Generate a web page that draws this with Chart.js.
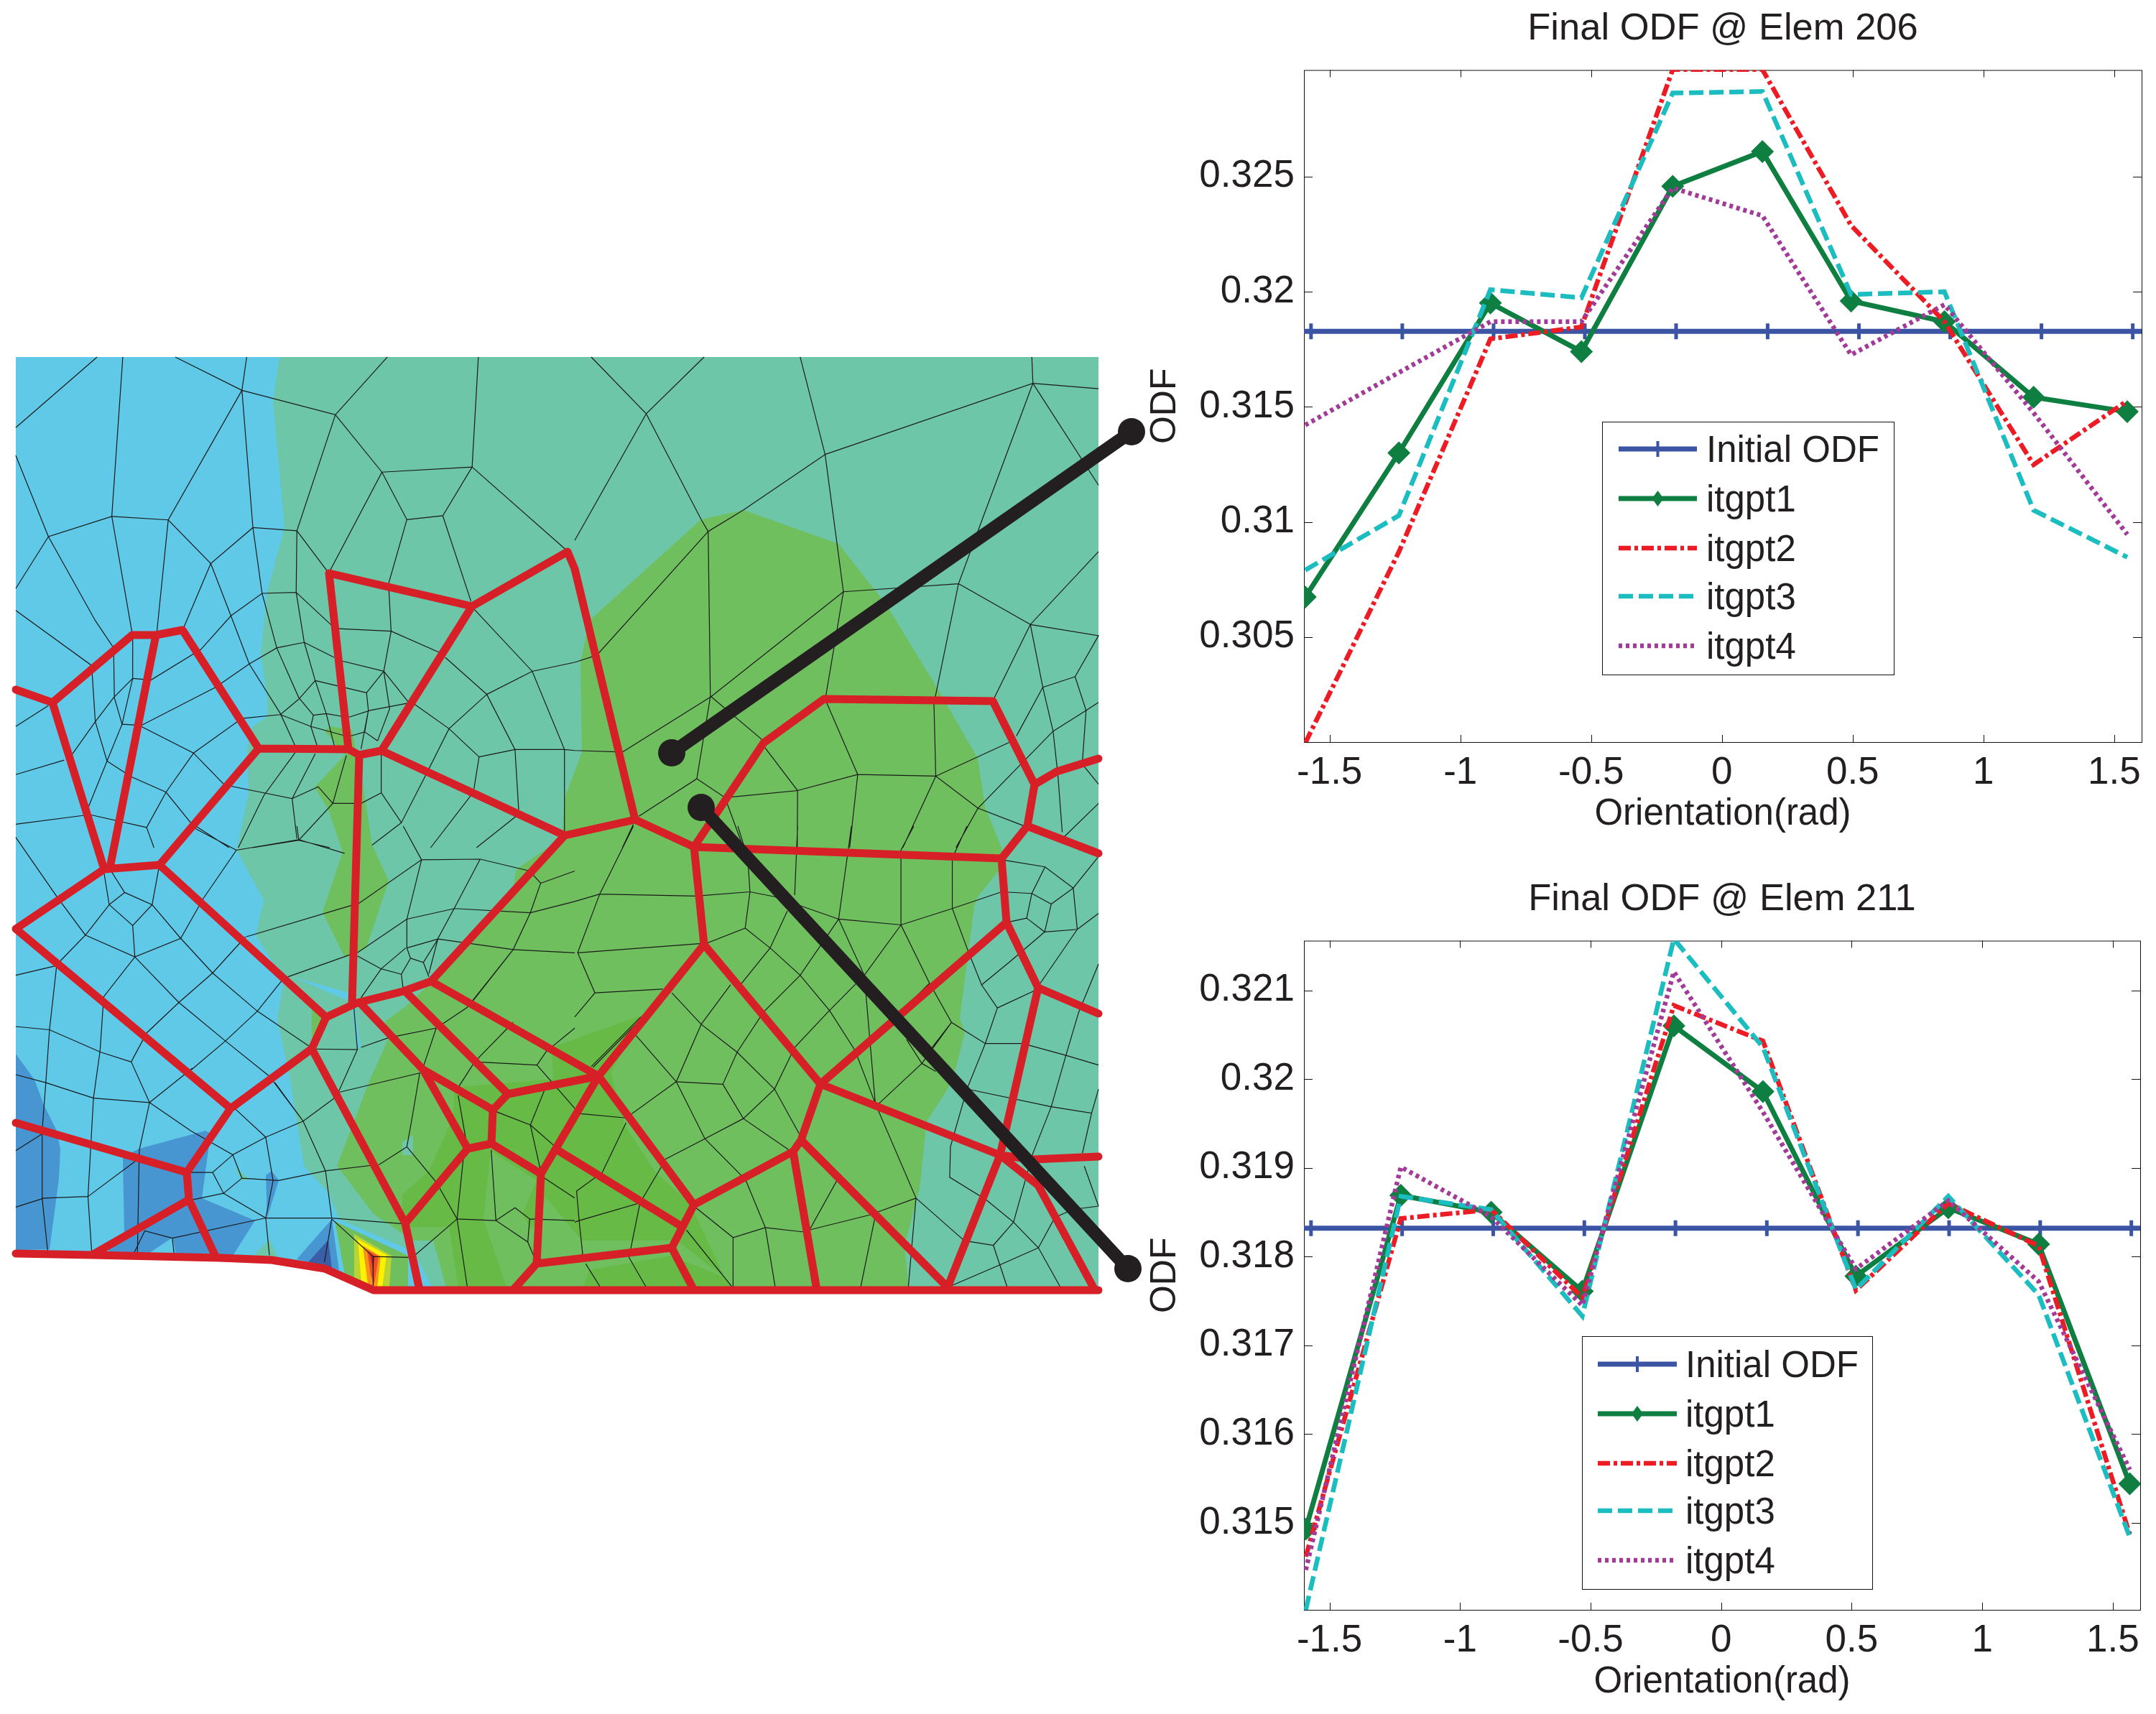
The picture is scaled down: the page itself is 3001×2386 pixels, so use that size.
<!DOCTYPE html>
<html>
<head>
<meta charset="utf-8">
<title>Final ODF</title>
<script src="https://cdn.jsdelivr.net/npm/chart.js@4/dist/chart.umd.min.js"></script>
<style>
  html, body { margin: 0; background: #fff; }
  body { position: relative; width: 3001px; height: 2386px; overflow: hidden; }
  canvas { position: absolute; display: block; }
  #mesh { left: 0; top: 0; }
  #elem206 { left: 1590px; top: 0; }
  #elem211 { left: 1590px; top: 1212px; }
</style>
</head>
<body>
<canvas id="mesh" width="1600" height="2386"></canvas>
<canvas id="elem206" width="1411" height="1165"></canvas>
<canvas id="elem211" width="1411" height="1161"></canvas>
<script>
// ---------- line chart data ----------
const seriesNames = ['Initial ODF', 'itgpt1', 'itgpt2', 'itgpt3', 'itgpt4'];
const xTicks = [-1.5, -1, -0.5, 0, 0.5, 1, 1.5];

// the blue line runs edge to edge, its + marks sit on a slightly different grid than the others
const initialX = [-1.598, -1.571, -1.222, -0.873, -0.524, -0.175, 0.175, 0.524, 0.873, 1.222, 1.571, 1.605];

const yTicks206 = [0.305, 0.31, 0.315, 0.32, 0.325];
const orient206 = [-1.593, -1.235, -0.885, -0.537, -0.188, 0.155, 0.494, 0.851, 1.192, 1.55];
const initial206 = [0.31828, 0.31828, 0.31828, 0.31828, 0.31828, 0.31828, 0.31828, 0.31828, 0.31828, 0.31828, 0.31828, 0.31828];
const itgpt1_206 = [0.30674, 0.313, 0.31951, 0.3174, 0.32458, 0.32609, 0.3196, 0.3187, 0.31542, 0.31479];
const itgpt2_206 = [0.3004, 0.3087, 0.31795, 0.31847, 0.32965, 0.32965, 0.32288, 0.3187, 0.31249, 0.31526];
const itgpt3_206 = [0.30791, 0.31028, 0.32009, 0.31974, 0.32863, 0.3287, 0.31988, 0.32, 0.31051, 0.30847];
const itgpt4_206 = [0.31421, 0.31649, 0.3187, 0.3187, 0.32451, 0.3233, 0.31726, 0.31944, 0.31474, 0.30946];

const yTicks211 = [0.315, 0.316, 0.317, 0.318, 0.319, 0.32, 0.321];
const orient211 = [-1.591, -1.227, -0.881, -0.532, -0.181, 0.16, 0.516, 0.87, 1.216, 1.565];
const initial211 = [0.31832, 0.31832, 0.31832, 0.31832, 0.31832, 0.31832, 0.31832, 0.31832, 0.31832, 0.31832, 0.31832, 0.31832];
const itgpt1_211 = [0.31493, 0.31869, 0.3185, 0.31761, 0.3206, 0.31986, 0.31778, 0.31855, 0.31814, 0.31544];
const itgpt2_211 = [0.31462, 0.31843, 0.31853, 0.31754, 0.32083, 0.32043, 0.31762, 0.3186, 0.31812, 0.31487];
const itgpt3_211 = [0.31402, 0.31868, 0.31853, 0.31733, 0.32158, 0.32036, 0.31763, 0.31868, 0.31757, 0.31484];
const itgpt4_211 = [0.31447, 0.31901, 0.31845, 0.31745, 0.32121, 0.31963, 0.31786, 0.31863, 0.31772, 0.3156];

// ---------- mesh data, x/y in mesh units ----------
const regionBase = [22,497, 1529,497, 1529,1796, 520,1796, 452,1766, 378,1754, 306,1751, 128,1747, 22,1745];
const regionTeal = [389,497, 380,560, 396,734, 372,824, 363,909, 372,971, 372,998, 352,1011, 344,1042, 346,1105, 329,1183, 367,1253, 356,1302, 395,1364, 386,1418, 403,1498, 423,1623, 457,1660, 472,1697, 570,1740, 578,1748, 602,1792, 602,1796, 1529,1796, 1529,497];
const regionGreenBand = [459,1011, 490,1016, 495,1042, 505,1092, 518,1176, 541,1226, 510,1320, 480,1333, 449,1270, 477,1186, 457,1127, 438,1096, 480,1051, 452,1018];
const regionGreen = [1035,710, 976,723, 820,864, 808,922, 810,1047, 800,1074, 786,1110, 783,1160, 770,1175, 719,1210, 714,1235, 653,1317, 566,1400, 536,1422, 541,1445, 515,1503, 469,1623, 520,1690, 575,1727, 603,1727, 622,1796, 1265,1796, 1259,1735, 1280,1654, 1290,1561, 1320,1514, 1331,1485, 1343,1436, 1336,1418, 1356,1262, 1361,1248, 1397,1204, 1394,1180, 1371,1123, 1361,1056, 1310,967, 1234,842, 1167,757];
const regionGreenSpot = [434,1404, 452,1418, 434,1454];
const regionTealSpot1 = [575,1580, 575,1608, 560,1608, 560,1590];
const regionTealSpot2 = [1043,1250, 1052,1296, 1032,1292];
const regionTealSpot3 = [352,1749, 375,1726, 388,1752];
const regionTealSpot4 = [326,1625, 347,1641, 337,1644];
const regionCyanWedge = [408,1360, 485,1382, 490,1400, 497,1458, 502,1458, 492,1396];
const regionDark = [897,1412, 768,1458, 770,1502, 640,1513, 632,1523, 630,1557, 597,1630, 560,1663, 560,1708, 625,1708, 638,1792, 1017,1792, 1007,1775, 966,1687, 967,1680, 913,1633, 870,1567, 850,1493];
const regionLight = [683,1602, 673,1697, 705,1792, 812,1792, 820,1768, 933,1748, 1008,1778, 943,1727, 810,1727, 760,1667, 740,1713, 727,1690, 747,1643];
const regionBlue1 = [22,1467, 48,1503, 61,1538, 79,1574, 84,1600, 82,1641, 69,1739, 22,1740];
const regionBlue2 = [171,1610, 194,1599, 286,1574, 293,1578, 281,1668, 355,1699, 324,1748, 245,1746, 240,1723, 205,1746, 148,1744, 173,1717];
const regionBlue3 = [378,1630, 388,1643, 372,1695, 370,1636];
const regionBlue4 = [462,1697, 413,1753, 449,1762, 472,1768];
const regionBlueDark = [457,1726, 429,1757, 452,1762, 462,1766];
// hot spot fan, outermost first
const fanCyan = [463,1697, 568,1740, 578,1748, 595,1792, 577,1792, 568,1750];
const fanGreen = [466,1700, 568,1748, 568,1792, 520,1794, 480,1774];
const fanLime = [493,1718, 545,1748, 542,1792, 520,1794, 493,1781];
const fanYellow = [498,1725, 538,1747, 532,1792, 520,1794, 503,1785];
const fanOrange = [505,1734, 530,1749, 525,1792, 520,1794, 512,1788];
const fanRed = [511,1740, 527,1749, 521,1787, 516,1775];
const fanDeep = [515,1746, 522,1749, 519,1766];

const redLinks = [
  [22,1745, 128,1747, 306,1751, 378,1754, 452,1766, 520,1796, 1529,1796],
  [22,960, 73,978, 184,884, 217,884, 254,877, 360,1042, 485,1043, 500,1051, 531,1045],
  [458,798, 485,1043], [458,798, 657,844, 790,768, 800,792, 884,1141], [657,844, 531,1045],
  [531,1045, 786,1163, 884,1141, 966,1179, 1394,1195], [966,1179, 1063,1034, 1147,973, 1382,976, 1440,1092, 1430,1150, 1394,1195],
  [1430,1150, 1529,1188], [1440,1092, 1471,1074, 1529,1056],
  [1394,1195, 1401,1284, 1445,1375, 1529,1411], [1401,1284, 1142,1509], [1445,1375, 1392,1608],
  [1142,1509, 1392,1608, 1438,1614, 1529,1610], [966,1179, 980,1315, 1142,1509, 1115,1587, 1104,1603], [1115,1587, 1319,1792],
  [1392,1608, 1319,1792], [1392,1608, 1445,1650, 1524,1796], [1104,1603, 1137,1796], [1104,1603, 966,1677, 950,1708, 935,1737, 966,1796],
  [935,1737, 747,1759], [950,1708, 776,1601], [966,1677, 833,1498, 980,1315], [707,1523, 833,1498], [786,1163, 600,1366],
  [600,1366, 561,1380, 497,1396, 454,1416, 434,1460, 321,1543, 260,1632, 263,1670, 128,1747], [263,1670, 301,1751], [260,1632, 22,1563],
  [500,1051, 490,1396], [360,1042, 222,1204, 145,1210, 22,1293], [222,1204, 454,1416], [22,1293, 321,1543], [217,884, 153,1208], [73,978, 145,1210],
  [434,1460, 564,1703, 584,1796], [564,1703, 651,1599, 684,1592, 686,1545, 707,1523, 566,1382], [686,1545, 589,1489, 503,1398], [589,1489, 651,1599],
  [600,1366, 833,1498], [684,1592, 753,1634, 747,1759, 714,1796], [753,1634, 833,1498]
];
const leaderTop = [935,1048, 1575,601];
const leaderBottom = [976,1124, 1570,1766];

// thin element edges, in the coordinates of the four enlarged views they were read from
const edgesUpperLeft = [
  [265,38,43,258], [335,38,305,535,360,895], [478,38,660,142,915,218,1057,38], [673,38,660,142,690,570,715,775,755,945,815,1100,855,1155,848,1190,865,1250],
  [43,345,132,598,305,535,459,546,575,682,690,570,810,580,897,712], [132,598,43,760], [132,598,260,860,310,945,312,1100,333,1183,362,1040,362,905],
  [660,142,459,546,428,895], [575,682,500,885], [575,682,630,845,680,995,765,1150,805,1250], [915,218,810,580,808,772,830,928,860,1047,890,1150,912,1250],
  [915,218,1042,397,900,705], [1042,397,1288,381,1305,38], [1042,397,1110,545,1060,745,1067,893,1047,1018,1063,1135,1030,1235], [1288,381,1208,533,1110,545],
  [1208,533,1285,800], [1288,381,1545,640], [808,772,715,775,630,845,548,950,412,1045,362,1040,310,1100,260,1175,195,1280], [808,772,905,875],
  [922,885,1067,893,1200,960], [830,928,755,945,680,995,588,1068,385,1187,333,1183], [830,928,912,975], [930,985,1047,1018,1000,1085,1005,1140,985,1260],
  [860,1047,1000,1085], [860,1047,815,1105,765,1153,660,1165,528,1273,385,1190], [1047,1018,1115,1115], [765,1153,848,1190,950,1222],
  [855,1155,890,1150,950,1162,1010,1140,1110,1118], [950,1222,995,1207,1030,1235], [1005,1140,995,1207], [1130,1120,1225,1197,1307,1285,1293,1385],
  [1215,975,1328,1090,1225,1197,1160,1345,1095,1490,1040,1397,1040,1265], [1328,1090,1452,1018,1568,990], [1290,820,1452,1018,1540,1262,1540,1520],
  [1328,1090,1405,1262,1415,1450], [1307,1285,1405,1262,1540,1262,1568,1265], [528,1273,453,1395,400,1505,420,1568], [528,1273,612,1372,797,1415,810,1540],
  [797,1415,868,1378,908,1430,985,1430,1040,1397], [805,1272,720,1405,650,1568], [860,1275,797,1415], [945,1280,908,1430,815,1545,690,1568], [815,1545,900,1568],
  [1095,1490,1015,1560], [292,1298,260,1175], [292,1298,333,1183], [292,1298,240,1445], [292,1298,358,1347,453,1395,520,1490], [43,1340,175,1295],
  [43,1495,245,1465,400,1505], [43,1190,132,1125], [43,828,250,1000,260,1175], [520,1490,625,1568], [1285,1405,1175,1568], [1408,1470,1300,1568]
];
const edgesUpperRight = [
  [45,38,195,215,353,38], [195,215,345,545,364,582,460,515,683,342,615,38], [195,215,0,610], [683,342,1250,120,1247,38], [1250,120,1429,137],
  [1250,120,1110,550,1047,745,985,1090,980,1120,985,1345,1100,1445,1225,1500], [1250,120,1429,438], [683,342,733,770,685,1095], [733,770,1047,745],
  [733,770,372,1097,130,1270], [364,582,370,1097,333,1353,175,1470], [364,582,60,968,0,990], [372,1097,515,1235], [130,1270,0,1265], [333,1353,410,1412,460,1568],
  [410,1412,608,1390,515,1250], [608,1390,772,1340,985,1345], [608,1390,607,1568], [772,1340,685,1110], [772,1340,750,1568], [985,1345,895,1568], [985,1345,1185,1240],
  [1047,745,1243,872,1429,645], [1243,872,1429,907,1365,1035,1395,1140,1385,1300], [1243,872,1145,1100], [1243,872,1277,1068,1365,1035], [1277,1068,1305,1205,1318,1340,1330,1520],
  [1277,1068,1205,1220], [1305,1205,1395,1140,1429,1115], [1305,1205,1100,1445,1040,1568], [1390,1315,1429,1370], [1429,1430,1330,1540], [160,1495,130,1568]
];
const edgesLowerLeft = [
  [43,35,155,220,233,340,165,420], [340,207,415,245,362,310,298,245,340,207], [283,140,298,245,233,340], [340,207,303,140], [415,245,435,120],
  [415,245,493,350,580,458,702,577,848,690], [362,310,368,408,283,532,273,700,255,848,240,1155,250,1325], [368,408,488,550,615,670,735,780,827,920,888,1075,905,1222],
  [233,340,368,408,493,350,555,225,645,75,815,42,940,85], [815,42,810,0], [645,75,520,0], [670,345,580,458,488,550,400,645,358,735,408,862,380,1010,375,1330],
  [672,345,980,240,1150,105,1310,103,1445,140,1475,178,1447,270,1400,385,1290,545], [1150,105,1100,0], [1150,105,1110,290,1110,380,1120,412,1095,462,1100,510],
  [1310,103,1240,255,1195,350,1170,460], [1110,290,1240,257,1447,270,1568,235], [1110,380,1195,352,1400,385,1568,395], [1120,412,1155,425,1195,352], [1155,425,1170,470],
  [1095,462,1040,445,985,535], [1040,445,1107,380], [975,405,1040,445], [785,470,957,400], [975,395,1110,290], [770,480,702,577,615,670,522,760],
  [155,430,135,635,125,800,115,950,115,1160,130,1325], [43,465,155,435], [43,625,135,635,275,705,357,735], [43,775,125,800,255,848,408,862],
  [408,862,520,950,635,1025,725,970,827,920,910,850], [408,862,525,755], [635,1025,580,1080,610,1145,660,1098,635,1025], [580,1080,515,1080],
  [725,970,745,1105,725,1222,610,1145], [660,1098,760,1105,888,1075,1035,1055,1110,1000], [610,1145,525,1165], [725,1222,905,1222,1100,1240],
  [725,1222,470,1285,395,1262,365,1333], [470,1285,475,1335], [725,1222,735,1338], [905,1225,885,1360], [905,1225,1018,1342,1115,1345], [1018,1342,1018,1440],
  [240,1155,120,1160,43,1188], [240,1155,375,1040], [115,960,43,1012], [640,880,725,970], [750,800,827,920], [850,695,975,697,925,825,910,850], [965,560,975,697],
  [985,690,1060,660,1190,630,1155,750], [1190,630,1275,565,1400,385], [925,830,1145,770,1125,905,1110,1000,1190,1110,1247,1225,1353,1230,1440,1297,1465,1365],
  [1247,1225,1275,1438], [1247,1225,1130,1340], [1353,1230,1405,1190,1445,1225,1440,1297], [1353,1230,1340,1010], [1445,1225,1568,1230], [1250,840,1270,970,1247,1225],
  [1295,735,1465,745,1490,703,1568,630], [1295,735,1250,815], [1295,735,1400,612], [1465,745,1568,880], [1490,810,1447,932,1353,890], [1447,932,1475,1075],
  [1447,932,1520,1005], [1475,1090,1568,1160], [1475,178,1568,140]
];
const edgesLowerRight = [
  [160,0,68,212,8,395,55,520,0,595], [0,235,68,212,330,218,478,205,545,220,720,290,890,308,1030,257,1165,205], [445,0,472,100,478,205,465,318,360,365], [608,0,600,215],
  [755,0,720,290,790,465,820,865,931,1160,910,1438], [925,0,890,75,890,308,968,490,1028,612,1120,678,1222,678,1340,715,1429,745],
  [1070,0,1030,100,1030,257,1075,395,1110,495,1153,567,1120,678,1070,820,1025,1000,1023,1095,1122,1165,1197,1235,1142,1307,1060,1292],
  [1165,105,1283,127,1360,193,1300,243,1247,210,1165,205], [1283,127,1247,210,1233,287,1282,330,1371,322,1360,193], [1300,243,1282,330], [1233,287,1180,300],
  [1282,330,1190,420,1110,495], [1371,322,1270,490], [1371,322,1429,272], [1360,193,1429,95], [1153,567,1260,510], [1429,430,1375,580,1340,715,1300,875,1250,1020],
  [1080,822,1300,875,1410,895,1429,820], [1410,895,1385,1020], [720,290,615,465,515,580,443,705,404,805,460,912,585,1010],
  [890,308,790,465,695,575,600,690,545,820,460,912,355,975,245,1040], [968,490,880,590], [1028,612,975,690], [580,265,533,380,445,505],
  [533,380,615,465,695,575,765,700,820,865], [465,318,533,380], [360,365,8,395], [55,520,240,508], [265,520,345,618,443,705,545,820,615,965], [345,618,425,495],
  [345,618,277,797,165,650], [277,797,404,805], [277,797,355,975,455,1090], [277,797,140,910,0,895], [140,925,75,1080,5,1138], [5,1138,12,1230,0,1235],
  [12,1230,178,1175,240,1055], [178,1175,148,1345,195,1438], [30,1365,70,1438], [12,1230,22,1340], [325,1185,432,1283,520,1252,620,1265,803,1213,931,1160],
  [432,1283,432,1438], [520,1252,547,1438], [465,1100,520,1252], [640,1260,725,1085], [820,1215,780,1438], [305,1260,430,1438], [931,1160,1060,1290],
  [1197,1235,1265,1315,1325,1438], [1142,1307,1180,1438], [1265,1315,1160,1368,1030,1432], [1265,1315,1310,1220,1360,1195,1429,1185], [1197,1235,1250,1020],
  [1390,1060,1429,1185], [947,740,985,765], [905,665,947,740,830,865], [947,740,1028,612], [45,750,180,595], [50,752,190,590]
];

const FONT = '"Liberation Sans", Arial, sans-serif';
const INK = '#231f20';
Chart.defaults.animation = false;
Chart.defaults.font.family = FONT;
Chart.defaults.color = INK;

// flat [x,y,x,y..] -> chart points
function toPoints(flat, fx = 1, fy = 1, ox = 0, oy = 0) {
  const out = [];
  for (let i = 0; i < flat.length; i += 2) out.push({ x: flat[i] / fx + ox, y: flat[i + 1] / fy + oy });
  return out;
}
// polylines joined into one dataset, NaN breaks the line
function joinLines(lines, fx, fy, ox, oy) {
  const out = [];
  lines.forEach(l => { out.push(...toPoints(l, fx, fy, ox, oy), { x: NaN, y: NaN }); });
  return out;
}

const meshFills = [
  ['#60c9e8', regionBase], ['#6ec6a9', regionTeal], ['#70bf5f', regionGreenBand], ['#70bf5f', regionGreen], ['#70bf5f', regionGreenSpot],
  ['#66ba45', regionDark], ['#70bf5f', regionLight], ['#6ec6a9', regionTealSpot1], ['#70bf5f', regionTealSpot2], ['#6ec6a9', regionTealSpot3], ['#6ec6a9', regionTealSpot4],
  ['#60c9e8', regionCyanWedge], ['#4795d1', regionBlue1], ['#4795d1', regionBlue2], ['#4795d1', regionBlue3], ['#4795d1', regionBlue4], ['#3a5fa8', regionBlueDark],
  ['#60c9e8', fanCyan], ['#70bf5f', fanGreen], ['#b9d433', fanLime], ['#fff200', fanYellow], ['#f7941d', fanOrange], ['#ee4d25', fanRed], ['#c1272d', fanDeep]
];

const meshFillPlugin = {
  id: 'meshFill',
  beforeDatasetsDraw(chart) {
    const { ctx, scales: { x, y } } = chart;
    ctx.save();
    meshFills.forEach(([color, flat]) => {
      ctx.beginPath();
      toPoints(flat).forEach((p, i) => {
        const px = x.getPixelForValue(p.x), py = y.getPixelForValue(p.y);
        if (i) ctx.lineTo(px, py); else ctx.moveTo(px, py);
      });
      ctx.closePath();
      ctx.fillStyle = color;
      ctx.fill();
    });
    ctx.restore();
  }
};

new Chart(document.getElementById('mesh'), {
  type: 'scatter',
  data: {
    datasets: [
      { label: 'leader ends', order: 0, clip: false, data: [...toPoints(leaderTop), ...toPoints(leaderBottom)], pointRadius: 19, backgroundColor: INK, borderWidth: 0 },
      { label: 'leaders', order: 1, clip: false, showLine: true, data: joinLines([leaderTop, leaderBottom]), borderColor: INK, borderWidth: 18, pointRadius: 0 },
      { label: 'grains', order: 2, showLine: true, data: joinLines(redLinks), borderColor: '#d71f27', borderWidth: 11, pointRadius: 0, borderJoinStyle: 'round', borderCapStyle: 'round' },
      { label: 'elements', order: 3, showLine: true, pointRadius: 0, borderColor: '#1a1a1a', borderWidth: 1.2, data: [
        ...joinLines(edgesUpperLeft, 1.96, 2.24, 0, 480),
        ...joinLines(edgesUpperRight, 1.96, 2.24, 800, 480),
        ...joinLines(edgesLowerLeft, 1.96, 2.24, 0, 1150),
        ...joinLines(edgesLowerRight, 1.96, 2.24, 800, 1150)
      ] }
    ]
  },
  options: {
    responsive: false,
    layout: { padding: 0, autoPadding: false },
    plugins: { legend: { display: false }, title: { display: false }, tooltip: { enabled: false } },
    scales: {
      x: { type: 'linear', min: 0, max: 1600, display: false },
      y: { type: 'linear', min: 0, max: 2386, reverse: true, display: false }
    }
  },
  plugins: [meshFillPlugin]
});

// matlab style box with inward ticks, legend sits inside the plot
const matlabBox = {
  id: 'matlabBox',
  beforeDatasetsDraw(chart) {
    const { ctx, chartArea: a, scales: { x, y } } = chart;
    ctx.save();
    ctx.strokeStyle = '#111';
    ctx.lineWidth = 1;
    ctx.strokeRect(a.left + 0.5, a.top + 0.5, a.right - a.left, a.bottom - a.top);
    ctx.beginPath();
    x.ticks.forEach(t => {
      const px = Math.round(x.getPixelForValue(t.value)) + 0.5;
      ctx.moveTo(px, a.top); ctx.lineTo(px, a.top + 10);
      ctx.moveTo(px, a.bottom); ctx.lineTo(px, a.bottom - 10);
    });
    y.ticks.forEach(t => {
      const py = Math.round(y.getPixelForValue(t.value)) + 0.5;
      ctx.moveTo(a.left, py); ctx.lineTo(a.left + 12, py);
      ctx.moveTo(a.right, py); ctx.lineTo(a.right - 12, py);
    });
    ctx.stroke();
    ctx.restore();
  },
  afterDatasetsDraw(chart, args, opts) {
    const { ctx } = chart;
    const [left, top, right, bottom] = opts.box;
    const [s0, s1] = opts.sample;
    ctx.save();
    ctx.fillStyle = '#fff';
    ctx.fillRect(left, top, right - left, bottom - top);
    ctx.strokeStyle = '#111';
    ctx.lineWidth = 1;
    ctx.strokeRect(left + 0.5, top + 0.5, right - left, bottom - top);
    chart.data.datasets.forEach((ds, i) => {
      const y = opts.rows[i];
      ctx.strokeStyle = ds.borderColor;
      ctx.lineWidth = ds.borderWidth;
      ctx.setLineDash(ds.borderDash || []);
      ctx.beginPath(); ctx.moveTo(s0, y); ctx.lineTo(s1, y); ctx.stroke();
      ctx.setLineDash([]);
      if (i < 2) {
        const mid = (s0 + s1) / 2;
        if (i === 0) {
          ctx.lineWidth = 4;
          ctx.beginPath(); ctx.moveTo(mid, y - 11); ctx.lineTo(mid, y + 11); ctx.stroke();
        } else {
          ctx.fillStyle = ds.borderColor;
          ctx.beginPath();
          ctx.moveTo(mid, y - 11); ctx.lineTo(mid + 8, y); ctx.lineTo(mid, y + 11); ctx.lineTo(mid - 8, y);
          ctx.closePath(); ctx.fill();
        }
      }
      ctx.fillStyle = INK;
      ctx.font = '51px ' + FONT;
      ctx.textBaseline = 'middle';
      ctx.fillText(ds.label, opts.textX, y + 4);
    });
    ctx.restore();
  }
};

function line(name, xs, ys, extra) {
  return Object.assign({
    label: name, showLine: true, clip: 0, tension: 0, pointRadius: 0, borderWidth: 6.5,
    data: ys.map((v, i) => ({ x: xs[i], y: v }))
  }, extra);
}

function odfChart(id, title, orient, rows, yRange, yTicks, rightPad, legendOpts) {
  return new Chart(document.getElementById(id), {
    type: 'scatter',
    data: {
      datasets: [
        line(seriesNames[0], initialX, rows[0], { order: 5, borderColor: '#3b54a4', borderWidth: 7, pointStyle: 'line', pointRotation: 90,
          pointBorderColor: '#3b54a4', pointBorderWidth: 5, pointRadius: initialX.map((v, i) => (i === 0 || i === initialX.length - 1) ? 0 : 11) }),
        line(seriesNames[1], orient, rows[1], { order: 4, borderColor: '#0f7f41', borderWidth: 7, pointStyle: 'rectRot', pointRadius: 11, backgroundColor: '#0f7f41', pointBorderColor: '#0f7f41' }),
        line(seriesNames[2], orient, rows[2], { order: 3, borderColor: '#ed1c24', borderDash: [17, 5, 5, 5] }),
        line(seriesNames[3], orient, rows[3], { order: 2, borderColor: '#1cbdc0', borderDash: [20, 8] }),
        line(seriesNames[4], orient, rows[4], { order: 1, borderColor: '#a23a98', borderDash: [5, 5] })
      ]
    },
    options: {
      responsive: false,
      devicePixelRatio: 1,
      layout: { padding: { left: 0, right: rightPad, top: 0, bottom: 0 }, autoPadding: false },
      plugins: {
        legend: { display: false },
        tooltip: { enabled: false },
        title: { display: true, fullSize: false, text: title, color: INK, font: { size: 52.5, weight: 'normal' }, padding: { top: 9, bottom: 25.5 } },
        matlabBox: legendOpts
      },
      scales: {
        x: {
          type: 'linear', min: -1.598, max: 1.605,
          grid: { display: false, drawTicks: false }, border: { display: false },
          afterBuildTicks: s => { s.ticks = xTicks.map(v => ({ value: v })); },
          afterFit: s => { s.height = 132; },
          ticks: { font: { size: 53 }, color: INK, padding: 12, autoSkip: false, maxRotation: 0, callback: v => String(v) },
          title: { display: true, text: 'Orientation(rad)', color: INK, font: { size: 51 }, padding: { top: 2, bottom: 0 } }
        },
        y: {
          type: 'linear', min: yRange[0], max: yRange[1],
          grid: { display: false, drawTicks: false }, border: { display: false },
          afterBuildTicks: s => { s.ticks = yTicks.map(v => ({ value: v })); },
          afterFit: s => { s.width = 225; },
          ticks: { font: { size: 53 }, color: INK, padding: 13, autoSkip: false, callback: v => String(v) },
          title: { display: true, text: 'ODF', color: INK, font: { size: 50 }, padding: { top: 2, bottom: 0 } }
        }
      }
    },
    plugins: [matlabBox]
  });
}

odfChart('elem206', 'Final ODF @ Elem 206', orient206,
  [initial206, itgpt1_206, itgpt2_206, itgpt3_206, itgpt4_206], [0.30044, 0.32963], yTicks206, 20,
  { box: [640, 587, 1046, 939], rows: [625, 694, 763, 830, 899], sample: [663, 772], textX: 785 });

odfChart('elem211', 'Final ODF @ Elem 211', orient211,
  [initial211, itgpt1_211, itgpt2_211, itgpt3_211, itgpt4_211], [0.31402, 0.32156], yTicks211, 22,
  { box: [612, 648, 1016, 1000], rows: [687, 756, 825, 891, 960], sample: [634, 744], textX: 756 });
</script>
</body>
</html>
